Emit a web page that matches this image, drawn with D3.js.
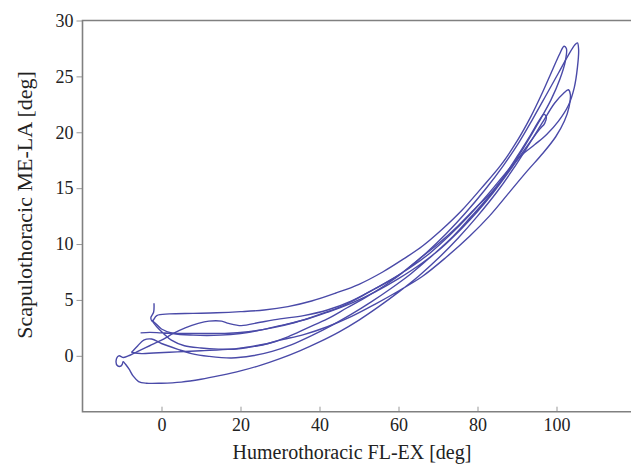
<!DOCTYPE html>
<html>
<head>
<meta charset="utf-8">
<script src="https://cdn.jsdelivr.net/npm/d3@7"></script>
<style>
  body { margin: 0; background: #fff; }
  svg text { font-family: "Liberation Serif", "Times New Roman", serif; }
</style>
</head>
<body>
<div id="chart"></div>
<script>
// four flexion-extension cycles, [humerothoracic, scapulothoracic] in deg
var cycle1 = [[-1.9,4.7],[-2.0,3.9],[-2.7,3.4],[-2.3,3.1],[-1.2,3.6],[2,3.75],[8,3.8],[14,3.85],[20,3.95],[26,4.1],[32,4.4],[38,4.9],[44,5.6],[50,6.4],[56,7.5],[61,8.6],[66,9.8],[71,11.3],[76,13.0],[81,15.0],[86,17.1],[90,19.2],[93.5,21.4],[96.5,23.6],[99,25.6],[100.8,27.0],[101.9,27.7],[102.5,27.5],[102.2,26.3],[100.8,24.7],[98.6,22.9],[95.5,20.9],[92,18.8],[88,16.6],[84,14.8],[80,13.4],[75,11.6],[70,10.0],[65,8.6],[60,7.2],[54,6.0],[48,4.9],[42,4.1],[36,3.6],[30,3.3],[25,3.0],[20.2,2.7],[17,2.9],[15.2,3.1],[12,3.1],[9.3,2.9],[6,2.5],[3,2.0],[0,1.4],[-3,0.9],[-6,0.4],[-8,0.05],[-9.6,-0.15],[-10.8,0.0],[-11.5,-0.45],[-11.1,-0.9],[-10.2,-0.9],[-9.7,-0.5]];
var cycle2 = [[-9.7,-0.5],[-9.0,-0.8],[-8.2,-1.2],[-7.2,-1.8],[-5.8,-2.3],[-3.8,-2.45],[0,-2.45],[5,-2.35],[10,-2.1],[15,-1.75],[20,-1.35],[25,-0.85],[30,-0.25],[35,0.45],[40,1.25],[45,2.15],[50,3.2],[55,4.4],[60,5.7],[65,7.1],[70,8.7],[75,10.5],[80,12.5],[85,14.7],[89,16.7],[93,18.9],[96.5,20.9],[99.5,22.6],[101.8,23.5],[103,23.8],[103.5,23.4],[103.2,22.3],[102,21.0],[99.8,19.6],[96.5,18.1],[92.5,16.5],[88,14.6],[83,12.5],[78,10.7],[72,8.8],[66,7.1],[60,5.8],[54,4.6],[48,3.5],[42,2.6],[36,1.9],[30,1.4],[27,1.1],[22,0.8],[17.7,0.6],[10,0.45],[4,0.35],[-2,0.25],[-5,0.2],[-7.6,0.3]];
var cycle3 = [[-7.6,0.3],[-6,0.9],[-4.5,1.4],[-2.5,1.5],[0,1.1],[4,0.6],[7.6,0.2],[12,-0.05],[17.7,-0.2],[23,0.0],[28,0.4],[33,1.0],[38,1.8],[43,2.7],[48,3.7],[53,4.8],[58,6.0],[63,7.3],[68,8.8],[73,10.4],[78,12.3],[83,14.3],[87,16.2],[90.5,18.1],[93.5,19.8],[95.5,21.0],[96.8,21.6],[97.4,21.4],[97.0,20.8],[95.8,20.3],[94.5,19.7],[92,18.5],[88,16.5],[84,14.6],[80,12.9],[76,11.4],[71,9.7],[66,8.3],[60,6.9],[54,5.7],[48,4.7],[42,3.9],[36,3.2],[30,2.7],[25,2.3],[20,2.0],[15,1.85],[8,1.85],[3,2.0],[0,2.4],[-1.5,2.9],[-2.5,3.2]];
var cycle4 = [[-2.5,3.2],[-1.2,2.6],[0.5,2.0],[2.5,1.4],[5.8,0.9],[10,0.7],[14.4,0.6],[19,0.6],[22,0.75],[27,1.1],[32,1.7],[37,2.5],[42,3.3],[47,4.3],[52,5.3],[57,6.4],[62,7.7],[67,9.2],[72,10.9],[77,12.8],[82,14.9],[86.5,17.0],[90.5,19.1],[94,21.2],[97.5,23.4],[100.5,25.3],[103,26.9],[104.6,27.8],[105.3,28.0],[105.6,27.4],[105.3,25.8],[104.5,24.0],[103,22.4],[100.5,21.0],[97.5,19.8],[94.5,18.9],[91,17.9],[87,16.3],[83,14.6],[78,12.6],[73,10.8],[68,9.2],[63,7.9],[58,6.8],[52,5.6],[46,4.5],[40,3.7],[34,3.0],[28,2.5],[22,2.15],[16,2.0],[10,2.0],[4,2.0],[0,2.05],[-3,2.1],[-5.3,2.05]];

var xTicks = [0, 20, 40, 60, 80, 100];
var yTicks = [0, 5, 10, 15, 20, 25, 30];

var width = 631, height = 465;
var plotLeft = 82.5, plotTop = 20.5, plotBottom = 411.7;

var svg = d3.select("#chart").append("svg")
    .attr("width", width)
    .attr("height", height);

var x = d3.scaleLinear().domain([-20, 120]).range([plotLeft, plotLeft + 140 * 3.95]);
var y = d3.scaleLinear().domain([-5, 30]).range([plotBottom, plotTop]);

// x axis, ticks pointing in
var xAxis = svg.append("g")
    .attr("transform", "translate(0," + plotBottom + ")")
    .call(d3.axisBottom(x).tickValues(xTicks).tickSize(-5).tickPadding(6.5));

// y axis, ticks pointing out
var yAxis = svg.append("g")
    .attr("transform", "translate(" + plotLeft + ",0)")
    .call(d3.axisLeft(y).tickValues(yTicks).tickSize(6).tickPadding(3));

[xAxis, yAxis].forEach(function(a) {
  a.select(".domain").remove();
  a.selectAll("line").attr("stroke", "#999").attr("stroke-width", 1);
  a.selectAll("text").attr("font-size", 18).attr("fill", "#222")
    .style("font-family", "'Liberation Serif', serif");
});

// frame: left, top, bottom (open on the right)
svg.append("path")
    .attr("d", "M" + width + "," + plotTop + "H" + plotLeft + "V" + plotBottom + "H" + width)
    .attr("fill", "none")
    .attr("stroke", "#808080")
    .attr("stroke-width", 1.6);

var line = d3.line()
    .x(function(d) { return x(d[0]); })
    .y(function(d) { return y(d[1]); })
    .curve(d3.curveCatmullRom.alpha(0.5));

svg.append("g").selectAll("path")
  .data([cycle1, cycle2, cycle3, cycle4])
  .enter()
  .append("path")
    .attr("d", line)
    .attr("fill", "none")
    .attr("stroke", "#4a4aa8")
    .attr("stroke-width", 1.4)
    .attr("stroke-linejoin", "round");

svg.append("text")
    .attr("x", 352)
    .attr("y", 459)
    .attr("text-anchor", "middle")
    .attr("font-size", 20)
    .attr("fill", "#222")
    .text("Humerothoracic FL-EX [deg]");

svg.append("text")
    .attr("transform", "translate(32,205) rotate(-90)")
    .attr("text-anchor", "middle")
    .attr("font-size", 22)
    .attr("fill", "#222")
    .text("Scapulothoracic ME-LA [deg]");
</script>
</body>
</html>
